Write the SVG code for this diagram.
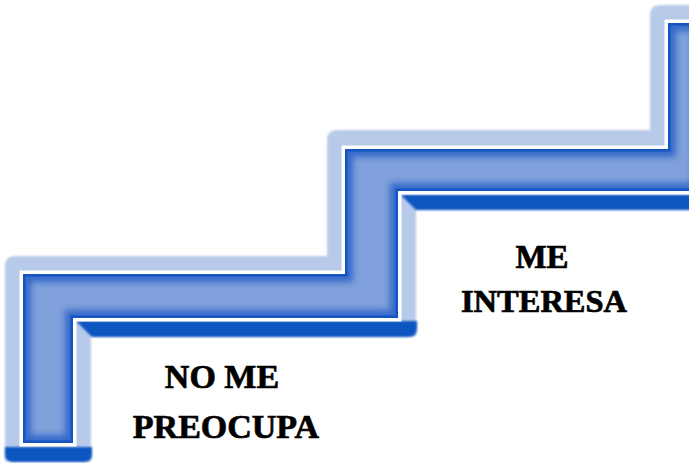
<svg xmlns="http://www.w3.org/2000/svg" width="689" height="463" viewBox="0 0 689 463">
  <defs>
    <style>
      .label { font-family: "Liberation Serif", "Times New Roman", serif; font-weight: bold; fill: #000; stroke: #000; stroke-width: 0.7; text-anchor: middle; }
      .glow { fill: #b8cae9; }
      .shadow { fill: #0b54c1; }
      .gap { fill: none; stroke: #ffffff; stroke-width: 7; stroke-linejoin: miter; }
      .band { fill: #80a1db; }
    </style>
    <filter id="soft" x="-10%" y="-10%" width="120%" height="120%">
      <feGaussianBlur stdDeviation="1"/>
    </filter>
    <filter id="bevelBlur" x="-10%" y="-10%" width="120%" height="120%">
      <feGaussianBlur stdDeviation="3"/>
    </filter>
    <path id="bandPath" d="M23,443 V274 H345 V149 H668 V23 H700 V191 H398 V318 H73 V443 Z"/>
    <clipPath id="bandClip">
      <use href="#bandPath"/>
    </clipPath>
  </defs>
  <rect width="689" height="463" fill="#ffffff"/>

  <g id="staircase">
    <path class="glow" filter="url(#soft)" d="M5,461 V266 Q5,256 15,256 H327 V140 Q327,130 337,130 H650 V15 Q650,5 660,5 H720 V209 H416 V336 H91 V461 Z"/>
    <g filter="url(#soft)">
      <path class="shadow" d="M5,447 H92 V454 Q92,462 84,462 H13 Q5,462 5,454 Z"/>
      <path class="shadow" d="M76,321 H417 V328 Q417,337 408,337 H92 Z"/>
      <path class="shadow" d="M401,195 H720 V210 H416 Z"/>
    </g>
    <use href="#bandPath" class="gap"/>
    <g clip-path="url(#bandClip)">
      <use href="#bandPath" class="band"/>
      <use href="#bandPath" fill="none" stroke="#1a58c5" stroke-width="16" opacity="0.75" filter="url(#bevelBlur)"/>
      <use href="#bandPath" fill="none" stroke="#1454c3" stroke-width="5"/>
    </g>
  </g>

  <g id="node-no-me-preocupa">
    <text class="label" x="222" y="388" font-size="34">NO ME</text>
    <text class="label" x="226" y="438" font-size="34">PREOCUPA</text>
  </g>
  <g id="node-me-interesa">
    <text class="label" x="542" y="268" font-size="33">ME</text>
    <text class="label" x="544" y="312" font-size="32.5">INTERESA</text>
  </g>
</svg>
